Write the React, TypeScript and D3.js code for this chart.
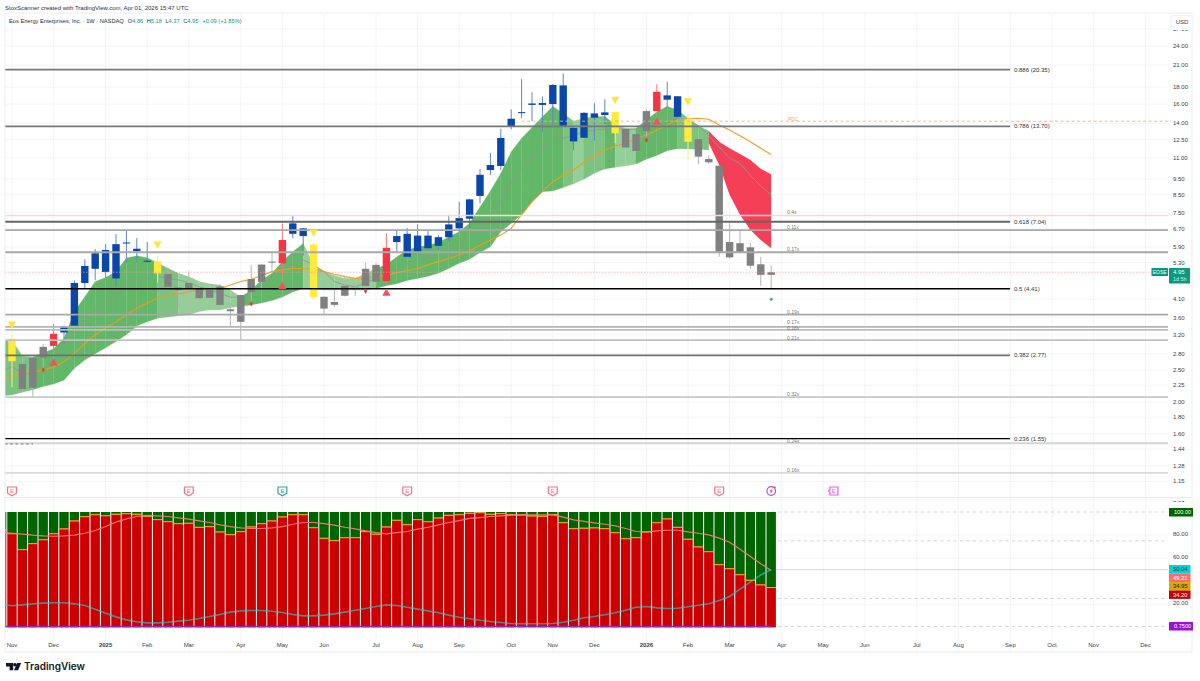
import React from 'react';
import * as d3 from 'd3';

// weekly bars, index 0 is the first full candle on the left
const bodyTop = [3.11,2.61,2.72,2.94,3.22,3.39,4.59,5.17,5.65,5.78, 6.02,6.09,5.83,5.36,5.33,4.89,4.45,4.59,4.42,4.37, 4.48,3.82,4.22,4.72,5.22,5.33,6.20,6.96,6.72,6.01, 4.17,4.02,4.50,4.44,5.07,5.21,5.87,6.37,6.47,6.39, 6.39,6.32,6.91,7.22,8.23,9.77,10.46,12.63,14.45,15.13, 16.07,16.12,18.28,18.23,13.55,15.05,14.99,15.10,15.13,13.45, 12.98,15.24,17.44,17.00,16.90,14.39,12.53,10.90,10.41,6.11, 6.06,5.89,5.23,4.95];
const bodyBottom = [2.66,2.19,2.21,2.73,2.96,3.25,3.41,4.59,5.07,4.96, 4.74,6.06,5.73,5.33,4.91,4.47,4.37,4.43,4.13,4.14, 3.94,3.77,3.50,4.31,4.63,5.29,5.27,6.47,6.37,4.15, 3.84,3.94,4.20,4.43,4.50,4.63,4.65,6.11,5.51,5.71, 5.85,5.95,6.32,6.72,7.19,8.43,10.10,10.39,13.73,15.03, 15.91,15.91,16.00,13.76,12.33,12.65,14.55,14.83,13.05,11.82, 11.53,13.26,15.24,16.50,14.64,12.30,11.09,10.66,5.71,5.49, 5.70,5.18,4.86,4.86];
const wickHigh = [3.20,2.63,2.72,3.00,3.45,3.41,4.67,5.42,5.81,6.02, 6.46,6.61,6.28,6.11,5.58,5.11,4.46,4.97,4.43,4.40, 4.56,3.99,4.22,5.21,5.25,5.71,6.95,7.37,6.73,6.10, 4.18,4.37,4.84,4.56,5.29,5.28,6.50,6.64,6.74,6.91, 6.64,6.42,7.39,8.09,8.25,10.17,11.39,13.47,15.42,19.06, 17.37,16.87,18.40,19.83,13.76,15.15,16.10,16.54,15.16,13.55, 12.98,15.45,18.37,18.71,16.94,14.99,12.53,11.20,10.41,6.97, 6.64,6.08,5.51,5.18];
const wickLow = [2.22,2.15,2.06,2.53,2.82,3.00,3.39,4.43,4.69,4.75, 4.47,5.29,5.29,5.29,4.60,4.39,3.86,3.67,3.80,3.80, 3.86,3.37,3.08,3.94,4.42,4.97,4.84,6.27,5.57,4.08, 3.70,3.87,4.18,4.20,4.37,4.53,4.56,5.70,5.50,5.70, 5.78,5.78,6.16,6.56,6.72,8.00,9.74,10.10,13.42,14.49, 14.22,13.19,13.85,13.76,11.61,12.63,12.39,13.92,12.20,11.74, 11.47,12.30,15.24,15.68,14.51,10.90,10.53,10.53,5.51,5.45, 5.68,5.06,4.50,4.37];
// y yellow, g grey, r red, b blue
const candleState = 'ygggrbbbbbbbbbyggggggggggg' + 'rbbygggggg' + 'r' + 'bbbbbbbbbbbbbbbbbbbbb' + 'ygggrbbygggggggg';

// band + lines start one bar before the first candle (index -1)
const bandUpper = [3.10, 3.07,2.76,2.74,2.82,2.90,3.12,3.76,4.17,4.64,4.77, 4.97,5.47,5.55,5.48,5.28,5.09,4.91,4.80,4.64,4.57, 4.53,4.37,4.16,4.37,4.69,4.91,5.33,5.71,6.05,5.21, 4.97,4.84,4.74,4.74,4.91,5.08,5.21,5.51,5.78,5.91, 5.97,6.09,6.34,6.56,6.96,7.80,8.72,9.87,11.47,12.60, 13.60,14.64,15.77,14.99,14.22,14.49,14.64,14.70,13.83,13.51, 13.51,14.32,15.16,15.77,15.35,14.49,13.76,13.26];
const bandLower = [2.09, 2.10,2.14,2.18,2.23,2.27,2.33,2.53,2.68,2.80,2.92, 3.05,3.20,3.40,3.50,3.59,3.62,3.65,3.67,3.76,3.80, 3.80,3.86,3.90,3.94,3.99,4.06,4.16,4.31,4.42,4.40, 4.37,4.37,4.37,4.37,4.37,4.42,4.50,4.57,4.67,4.74, 4.81,4.91,5.08,5.27,5.42,5.68,5.91,6.56,6.96,7.39, 8.09,8.68,8.73,8.94,9.17,9.47,9.87,10.17,10.29,10.39, 10.53,10.88,11.18,11.55,11.72,11.70,11.67,11.61];
// shade of each band segment (d dark, m medium, l light)
const bandShade = 'mmm' + 'dddddddddddd' + 'mm' + 'llllll' + 'dddddd' + 'lllllll' + 'dddddddddddddddddd' + 'mlmmd' + 'll' + 'dddd' + 'mmm';
const redUpper = [13.26,12.30,11.75,11.30,10.83,10.19,9.80];
const redLower = [12.17,10.46,8.50,7.39,6.64,6.20,5.85];
const redStart = 67;

const midLine = [2.47, 2.56,2.44,2.44,2.53,2.65,2.94,3.27,3.55,3.76,3.90, 4.22,4.53,4.69,4.74,4.80,4.74,4.69,4.60,4.47,4.37, 4.27,4.16,4.16,4.27,4.53,4.74,5.08,5.21,5.39,5.21, 4.97,4.64,4.53,4.47,4.59,4.74,4.84,4.97,5.27,5.39, 5.51,5.68,5.78,5.97,6.34,6.80,7.39,8.19,9.22,10.19, 11.09,11.75,12.51,12.60,12.87,13.19,13.35,13.45,13.51,13.42, 13.42,13.76,14.12,14.49,14.49,14.32,13.76,12.87,11.85,10.97, 10.57,9.74,9.03,8.50];
const slowLine = [2.33, 2.40,2.44,2.47,2.50,2.55,2.65,2.81,3.01,3.20,3.36, 3.50,3.67,3.85,3.99,4.13,4.20,4.25,4.32,4.37,4.40, 4.42,4.53,4.64,4.71,4.84,4.97,5.03,5.08,5.08,5.05, 4.97,4.88,4.80,4.74,4.74,4.80,4.84,4.94,5.00,5.08, 5.21,5.33,5.45,5.58,5.75,5.97,6.20,6.42,6.72,7.39, 8.09,8.68,9.31,9.74,10.10,10.66,11.18,11.61,11.94,12.17, 12.60,12.87,13.35,13.80,14.32,14.42,14.49,14.39,13.83,13.35, 12.82,12.30,11.75,11.26];

const oscValues = [85.1, 81.6,67.8,73.0,76.4,81.6,85.7,92.6,96.4,98.1,97.2, 98.4,99.0,98.4,96.7,93.8,92.0,90.3,90.6,87.1,87.7, 83.1,80.8,83.4,87.4,90.3,92.6,96.1,98.1,98.1,86.8, 77.6,75.6,78.2,78.2,83.4,81.1,87.4,93.2,89.4,93.8, 92.0,95.2,97.5,98.1,99.3,99.9,98.4,99.0,98.1,97.8, 96.9,96.7,98.1,91.2,86.0,86.3,86.6,86.0,82.5,77.3, 78.2,83.1,91.2,94.4,87.1,76.7,70.1,66.0,54.8,51.3, 46.1,41.2,37.2,34.95];
const oscUpper = [82.5, 81.6,80.8,79.9,79.3,79.0,79.3,79.9,81.6,84.0,87.4, 91.2,94.1,96.1,97.0,96.7,96.1,94.9,93.8,92.3,90.9, 88.9,87.4,86.3,85.7,85.7,86.3,87.4,89.4,90.9,90.9, 90.0,88.6,86.8,85.4,83.7,82.2,81.1,82.2,83.1,85.1, 86.8,88.9,90.9,92.6,94.4,95.2,96.1,96.7,97.2,97.5, 97.5,97.5,97.5,95.5,93.2,91.8,90.6,89.4,88.0,85.7, 83.1,82.8,83.7,84.2,84.2,82.8,81.6,80.2,77.3,73.8, 67.8,61.4,55.1,49.21];
const oscLower = [20.1, 18.7,19.5,20.4,21.0,21.3,21.3,20.4,18.9,15.8,12.3, 9.1,6.5,4.8,3.9,3.9,4.5,5.4,6.2,7.7,9.4, 11.2,13.2,14.3,14.6,14.6,14.0,12.9,11.2,10.0,10.0, 10.6,11.7,13.2,14.9,16.4,18.1,19.5,18.9,17.5,15.8, 14.3,12.6,10.6,8.8,7.4,6.2,5.1,4.2,3.3,3.1, 3.1,3.1,3.3,4.5,6.2,8.3,9.4,10.9,12.6,14.9, 17.5,18.1,16.9,16.4,16.6,17.8,19.2,20.4,23.3,26.8, 33.1,39.2,45.5,50.04];

const fibLevels = [0.886, 0.786, 0.618, 0.5, 0.382, 0.236];
const fibPrices = [20.35, 13.7, 7.04, 4.41, 2.77, 1.55];
const fibColors = ['#787878', '#787878', '#666666', '#000000', '#707070', '#000000'];
const volLevels = [7.35, 6.64, 5.69, 3.68, 3.38, 3.31, 3.08, 2.07, 1.50, 1.22];
const volLabels = ['0.4x', '0.11x', '0.17x', '0.19x', '0.17x', '0.16x', '0.21x', '0.32x', '0.24x', '0.16x'];
const volColors = ['#fbd5d8', '#a8a8a8', '#a8a8a8', '#a8a8a8', '#b4b4b4', '#bcbcbc', '#c0c0c0', '#c8c8c8', '#d4d4d4', '#dadada'];
const volLabelShift = [-1.6, -1.2, -1.2, -1, -2.6, 0, -0.4, -1, -0.2, -1];

const priceTicks = [27, 24, 21, 18, 16, 14, 12.5, 11, 9.5, 8.5, 7.5, 6.7, 5.9, 5.3, 4.1, 3.6, 3.2, 2.8, 2.5, 2.25, 2, 1.8, 1.6, 1.44, 1.28, 1.15, 1.01];
const oscTicks = [80, 60, 20];
const oscDashes = [100, 75, 25, 0.75];
const monthLabels = ['Nov', 'Dec', '2025', 'Feb', 'Mar', 'Apr', 'May', 'Jun', 'Jul', 'Aug', 'Sep', 'Oct', 'Nov', 'Dec', '2026', 'Feb', 'Mar', 'Apr', 'May', 'Jun', 'Jul', 'Aug', 'Sep', 'Oct', 'Nov', 'Dec'];
const monthBars = [0, 4, 9, 13, 17, 22, 26, 30, 35, 39, 43, 48, 52, 56, 61, 65, 69, 74, 78, 82, 87, 91, 96, 100, 104, 109];

const yellowMarks = [[0, 3.45], [14, 6.03], [29, 6.56], [58, 16.56], [65, 16.38]];
const redUpMarks = [[4, 2.62], [26, 4.48], [36, 4.27], [62, 14.12]];
const redDots = [[3, 2.5], [23, 3.97], [34, 4.34], [61, 12.45]];
const greenDots = [[73, 4.1]];
const earningsBars = [0, 17, 26, 38, 52, 68];
const earningsColors = ['#f7707c', '#f7707c', '#2aa79b', '#f7707c', '#f7707c', '#f7707c'];

const lastPrice = 4.95;
const pocPrice = 14.2;
const FONT = '"Liberation Sans", Arial, sans-serif';
const stateColor = { y: '#ffeb3b', g: '#808080', r: '#f23645', b: '#0a47a9' };
const wickColor = { y: '#fff06a', g: '#b4b4b4', r: '#f7747f', b: '#5f86c6' };
const shadeColor = { d: '#63b768', m: '#7cc381', l: '#93cf97' };

const x = d3.scaleLinear().domain([0, 73]).range([12, 771.2]);
const y = d3.scaleLog().domain([24, 1.28]).range([46, 466]);
const yo = d3.scaleLinear().domain([100, 0.75]).range([512, 626.5]);

const triUp = d3.symbol(d3.symbolTriangle, 30);
const fmt = (v: number) => v.toFixed(2);

function Shield({ cx, color }: { cx: number; color: string }) {
  return (
    <g transform={`translate(${cx},491)`}>
      <path d="M-4.4,-4 H4.4 V2.2 L0,4.8 L-4.4,2.2 Z" fill="#fff" stroke={color} strokeWidth={1.2} />
      <text y={2} textAnchor="middle" fontSize={6} fill={color} fontFamily={FONT}>E</text>
    </g>
  );
}

export default function App() {
  const lineP = d3.line<number>().x((_, i) => x(i - 1)).y(d => y(d));
  const lineO = d3.line<number>().x((_, i) => x(i - 1)).y(d => yo(d));
  const bandSeg = d3.area<number>().x(i => x(i - 1)).y0(i => y(bandLower[i])).y1(i => y(bandUpper[i]));
  const redBand = d3.area<number>().x((_, i) => x(redStart + i)).y0((_, i) => y(redLower[i])).y1(d => y(d));
  const barW = x(1) - x(0);

  return (
    <svg width={1200} height={681} style={{ position: 'absolute', left: 0, top: 0, background: '#fff' }} fontFamily={FONT}>
      <defs>
        <clipPath id="plot"><rect x={5} y={14} width={1163} height={483} /></clipPath>
        <clipPath id="oscClip"><rect x={5} y={498} width={1163} height={135} /></clipPath>
      </defs>

      <text x={5} y={9.5} fontSize={6} fill="#2a2e39">StoxScanner created with TradingView.com, Apr 01, 2026 15:47 UTC</text>

      {/* grid */}
      {monthBars.map((m, i) => (
        <line key={i} x1={x(m)} x2={x(m)} y1={14} y2={652} stroke="#f2f4f8" />
      ))}
      {priceTicks.map(t => (
        <line key={t} x1={5} x2={1168} y1={y(t)} y2={y(t)} stroke="#f4f5f9" />
      ))}
      {oscTicks.map(t => (
        <line key={t} x1={5} x2={1168} y1={yo(t)} y2={yo(t)} stroke="#f4f5f9" />
      ))}

      <g clipPath="url(#plot)">
        {/* band */}
        {bandUpper.slice(0, -1).map((_, i) => (
          <path key={i} d={bandSeg([i, i + 1])!} fill={shadeColor[bandShade[i]] ?? shadeColor.d} stroke={shadeColor[bandShade[i]] ?? shadeColor.d} strokeWidth={0.2} />
        ))}
        <path d={redBand(redUpper)!} fill="#f43f56" />
        <path d={lineP(midLine)!} fill="none" stroke="#8f9a90" strokeWidth={0.9} />
        <path d={lineP(slowLine)!} fill="none" stroke="#f59a1b" strokeWidth={1.1} />

        {/* candles */}
        {bodyTop.map((t, i) => {
          const s = candleState[i];
          const top = y(t);
          const h = Math.max(y(bodyBottom[i]) - top, 1);
          return (
            <g key={i}>
              <line x1={x(i)} x2={x(i)} y1={y(wickHigh[i])} y2={y(wickLow[i])} stroke={wickColor[s]} strokeWidth={1} />
              <rect x={x(i) - 3.7} y={top} width={7.4} height={h} fill={stateColor[s]} />
            </g>
          );
        })}

        {/* levels */}
        {volLevels.map((p, i) => (
          <line key={i} x1={5} x2={1168} y1={y(p)} y2={y(p)} stroke={volColors[i]} strokeWidth={i === 0 ? 1.4 : 1.8} />
        ))}
        {fibPrices.map((p, i) => (
          <line key={i} x1={5} x2={1010} y1={y(p)} y2={y(p)} stroke={fibColors[i]} strokeWidth={i === 3 || i === 5 ? 1.4 : 1.8} />
        ))}
        <line x1={x(49)} x2={1168} y1={y(pocPrice)} y2={y(pocPrice)} stroke="#f7b267" strokeWidth={0.9} strokeDasharray="3 2.5" />
        <line x1={5} x2={1168} y1={y(lastPrice)} y2={y(lastPrice)} stroke="#f59aa2" strokeWidth={0.7} strokeDasharray="1.5 1.5" />
        <line x1={5} x2={33} y1={444} y2={444} stroke="#9a9a9a" strokeWidth={1.4} strokeDasharray="2.5 2.8" />

        {/* markers */}
        {yellowMarks.map(([b, p], i) => (
          <path key={i} d={triUp()!} transform={`translate(${x(b)},${y(p)}) rotate(180)`} fill="#ffe53b" />
        ))}
        {redUpMarks.map(([b, p], i) => (
          <path key={i} d={triUp()!} transform={`translate(${x(b)},${y(p)})`} fill="#f5505f" />
        ))}
        {redDots.map(([b, p], i) => (
          <path key={i} d={d3.symbol(d3.symbolDiamond, 9)()!} transform={`translate(${x(b)},${y(p)})`} fill="#ee3344" />
        ))}
        {greenDots.map(([b, p], i) => (
          <circle key={i} cx={x(b)} cy={y(p)} r={1.5} fill="#4caf50" />
        ))}

        {/* level labels */}
        <text x={788} y={121} fontSize={4.6} fill="#f7a94a">POC</text>
        {volLevels.map((p, i) => (
          <text key={i} x={787} y={y(p) + volLabelShift[i]} fontSize={5} fill="#777">{volLabels[i]}</text>
        ))}
        {fibPrices.map((p, i) => (
          <text key={i} x={1014} y={y(p) + 2.1} fontSize={6} fill="#333">{`${fibLevels[i]} (${p.toFixed(2)})`}</text>
        ))}
      </g>

      {/* legend */}
      <text x={9} y={22.5} fontSize={5.7} fill="#2a2e39">
        Eos Energy Enterprises, Inc. · 1W · NASDAQ
        <tspan dx={4}>O</tspan><tspan fill="#089981">4.86</tspan>
        <tspan dx={3.5}>H</tspan><tspan fill="#089981">5.18</tspan>
        <tspan dx={3.5}>L</tspan><tspan fill="#089981">4.37</tspan>
        <tspan dx={3.5}>C</tspan><tspan fill="#089981">4.95</tspan>
        <tspan dx={4} fill="#089981">+0.09 (+1.85%)</tspan>
      </text>

      {/* earnings row */}
      {earningsBars.map((b, i) => (
        <Shield key={i} cx={x(b)} color={earningsColors[i]} />
      ))}
      <g transform={`translate(${x(73)},491)`}>
        <circle r={4.3} fill="#fff" stroke="#b14fd6" strokeWidth={1.2} />
        <path d="M0.8,-2.8 L-1.8,0.5 H-0.1 L-0.8,2.8 L1.8,-0.5 H0.1 Z" fill="#b14fd6" />
        <circle cx={3.5} cy={-3.6} r={1} fill="#f23645" />
      </g>
      <g transform={`translate(${x(79)},491)`}>
        <path d="M-3.6,-4 H4.4 V4 H-3.6 V1.2 L-5,0 L-3.6,-1.2 Z" fill="#fff" stroke="#e659f2" strokeWidth={1.2} />
        <text y={2} textAnchor="middle" fontSize={6} fill="#e659f2">E</text>
      </g>

      {/* oscillator pane */}
      <g clipPath="url(#oscClip)">
        {oscDashes.map(t => (
          <line key={t} x1={x(73)} x2={1168} y1={yo(t)} y2={yo(t)} stroke="#c8cad0" strokeWidth={0.8} strokeDasharray="3.5 3" />
        ))}
        <line x1={x(73)} x2={1168} y1={yo(50)} y2={yo(50)} stroke="#c8cad0" strokeWidth={0.8} />
        {oscValues.map((v, i) => {
          const cx = x(i - 1);
          const w = barW - 1;
          return (
            <g key={i}>
              <rect x={cx - w / 2} y={yo(100)} width={w} height={yo(v) - yo(100)} fill="#006400" />
              <rect x={cx - w / 2} y={yo(v)} width={w} height={yo(0) - yo(v)} fill="#cc0000" />
              <rect x={cx - w / 2} y={yo(v)} width={w} height={1} fill="#e0c000" />
            </g>
          );
        })}
        <line x1={5} x2={x(73)} y1={yo(0.75)} y2={yo(0.75)} stroke="#9c1fb5" strokeWidth={1.6} />
        <path d={lineO(oscUpper)!} fill="none" stroke="#ff7b7b" strokeWidth={1.2} opacity={0.9} />
        <path d={lineO(oscLower)!} fill="none" stroke="#26c6cf" strokeWidth={1.6} opacity={0.65} />
      </g>

      {/* frame */}
      <rect x={5} y={13} width={1187} height={639} fill="none" stroke="#e6e8ee" strokeWidth={0.8} />
      <rect x={5} y={497} width={1187} height={1} fill="#e6e8ee" />

      {/* price axis */}
      {priceTicks.map(t => (
        <text key={t} x={1173} y={y(t) + 2.1} fontSize={6} fill="#3a3e4a">{fmt(t)}</text>
      ))}
      <rect x={1168.5} y={498} width={23} height={3} fill="#fff" />
      <rect x={1168.5} y={14} width={23} height={16} fill="#fff" />
      <rect x={1171} y={15.7} width={22} height={12.6} rx={2} fill="#fff" stroke="#e6e8ee" strokeWidth={0.7} />
      <text x={1182} y={24.2} fontSize={6} fill="#3a3e4a" textAnchor="middle">USD</text>

      <rect x={1151.5} y={268} width={16.5} height={8} rx={0.5} fill="#089981" />
      <text x={1159.7} y={274.1} fontSize={5} fill="#fff" textAnchor="middle">EOSE</text>
      <rect x={1169} y={268} width={21} height={15.5} rx={0.5} fill="#089981" />
      <text x={1173} y={274.4} fontSize={6} fill="#fff">4.95</text>
      <text x={1173} y={281.2} fontSize={5.4} fill="#d2f0ea">1d 5h</text>

      {/* oscillator axis */}
      {oscTicks.map(t => (
        <text key={t} x={1173} y={yo(t) + 1.2} fontSize={6} fill="#3a3e4a">{fmt(t)}</text>
      ))}
      <rect x={1169} y={508} width={24} height={8.5} rx={0.5} fill="#006400" />
      <text x={1174} y={514.4} fontSize={5.6} fill="#fff">100.00</text>
      <rect x={1169} y={565} width={21.5} height={8.7} fill="#00d4d8" />
      <text x={1173} y={571.4} fontSize={5.8} fill="#1a2a30">50.04</text>
      <rect x={1169} y={573.7} width={21.5} height={8.4} fill="#ff6b6b" />
      <text x={1173} y={580} fontSize={5.8} fill="#fff">49.21</text>
      <rect x={1169} y={582.1} width={21.5} height={8.4} fill="#d4a900" />
      <text x={1173} y={588.4} fontSize={5.8} fill="#2b2500">34.95</text>
      <rect x={1169} y={590.5} width={21.5} height={8.4} fill="#cc0000" />
      <text x={1173} y={596.8} fontSize={5.8} fill="#fff">34.20</text>
      <rect x={1169} y={622} width={24} height={8.5} rx={0.5} fill="#9c10d8" />
      <text x={1174} y={628.4} fontSize={5.6} fill="#fff">0.7500</text>

      {/* time axis */}
      {monthLabels.map((m, i) => (
        <text key={i} x={x(monthBars[i])} y={647} fontSize={6} textAnchor="middle" fill="#3a3e4a" fontWeight={m.length === 4 ? 700 : 400}>{m}</text>
      ))}

      {/* logo */}
      <g fill="#131722">
        <path d="M6,663 H13.2 V670.2 H9.6 V666.6 H6 Z" />
        <circle cx={15} cy={664.8} r={1.8} />
        <path d="M17.2,663 H21.2 L18,670.2 H14 Z" />
      </g>
      <text x={24} y={670.3} fontSize={10} fontWeight={600} fill="#131722" fontFamily="Inter, sans-serif">TradingView</text>
    </svg>
  );
}
